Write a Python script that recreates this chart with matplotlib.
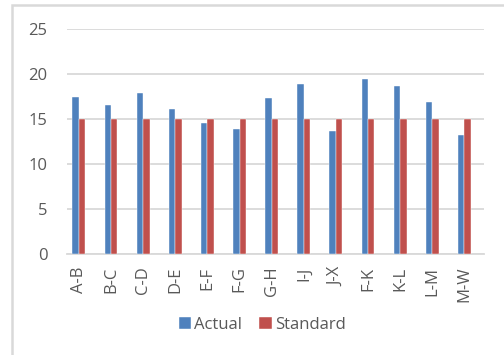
import numpy as np
import matplotlib
matplotlib.use("Agg")
import matplotlib.pyplot as plt
from matplotlib.patches import Rectangle

# route segments and measured vs standard values
segments = ["A-B", "B-C", "C-D", "D-E", "E-F", "F-G", "G-H",
            "I-J", "J-X", "F-K", "K-L", "L-M", "M-W"]
actual = [17.4, 16.6, 17.9, 16.1, 14.6, 13.9, 17.3,
          18.85, 13.7, 19.4, 18.7, 16.85, 13.2]
standard = [15, 15, 15, 15, 15, 15, 15, 15, 15, 15, 15, 15, 15]
y_ticks = [0, 5, 10, 15, 20, 25]

BLUE = "#4F81BD"
RED = "#C0504D"
TXT = "#595959"
GRID = "#D9D9D9"

plt.rcParams["font.family"] = ["Open Sans", "DejaVu Sans"]

fig = plt.figure(figsize=(5.04, 3.55), dpi=100)
ax = fig.add_axes([67 / 504, 1 - 254 / 355, (484 - 67) / 504, (254 - 29) / 355])

# outer chart frame
fig.patches.append(Rectangle((12 / 504, -0.1), 1.2, 1 - 5 / 355 + 0.1,
                             transform=fig.transFigure, fill=False,
                             edgecolor="#D9D9D9", linewidth=1.8))

x = np.arange(len(segments))
w = 0.2
ax.bar(x - w / 2, actual, w, color=BLUE, edgecolor="white",
       linewidth=0.3, label="Actual", zorder=3)
ax.bar(x + w / 2, standard, w, color=RED, edgecolor="white",
       linewidth=0.3, label="Standard", zorder=3)

ax.set_xlim(-0.37, len(segments) - 0.39)
ax.set_ylim(0, 25)
ax.set_yticks(y_ticks)
ax.yaxis.grid(True, color=GRID, linewidth=1.3, zorder=0)
ax.set_axisbelow(True)
for s in ["top", "right", "left"]:
    ax.spines[s].set_visible(False)
ax.spines["bottom"].set_color(GRID)
ax.spines["bottom"].set_linewidth(1.3)
ax.tick_params(axis="both", length=0, colors=TXT, labelsize=12)
ax.tick_params(axis="y", pad=14)
ax.tick_params(axis="x", pad=9)
ax.set_xticks(x)
ax.set_xticklabels(segments, rotation=90)

fig.legend(loc="center", bbox_to_anchor=(0.52, 1 - 325 / 355), ncol=2,
           frameon=False, fontsize=12, labelcolor=TXT,
           handlelength=0.75, handleheight=0.75, handletextpad=0.2,
           columnspacing=1.0)

fig.savefig("out.png", dpi=100)
